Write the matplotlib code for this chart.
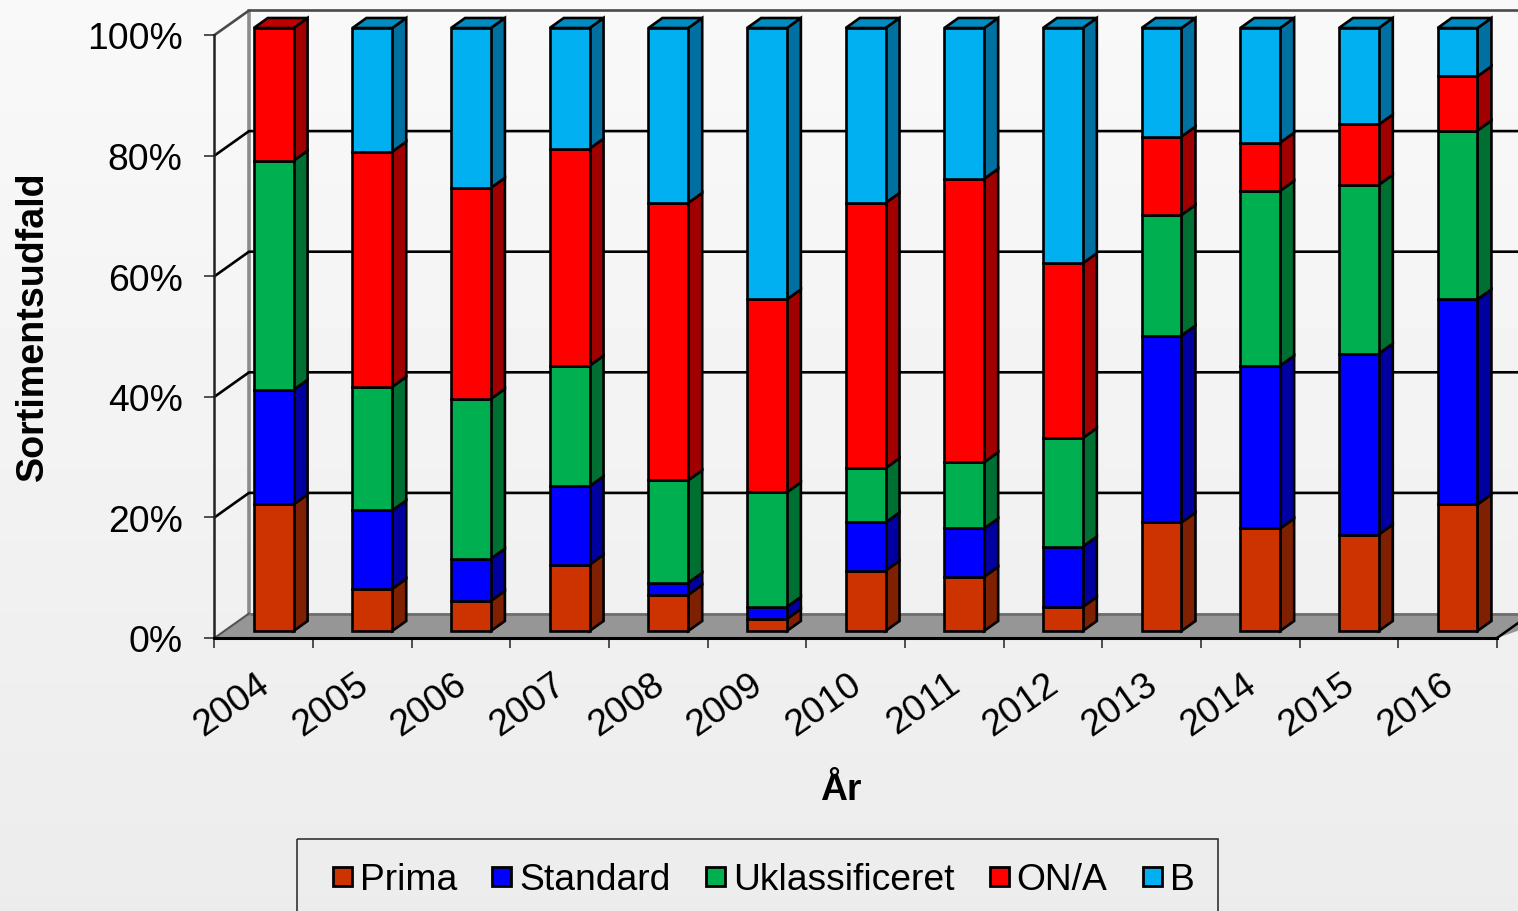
#!/usr/bin/env python3
import numpy as np
import matplotlib
matplotlib.use("Agg")
import matplotlib.pyplot as plt
from matplotlib.patches import Rectangle

plt.rcParams['font.family'] = ['Liberation Sans', 'DejaVu Sans']

years = [2004, 2005, 2006, 2007, 2008, 2009, 2010, 2011, 2012, 2013, 2014, 2015, 2016]
series_names = ['Prima', 'Standard', 'Uklassificeret', 'ON/A', 'B']
prima = [21, 7, 5, 11, 6, 2, 10, 9, 4, 18, 17, 16, 21]
standard = [19, 13, 7, 13, 2, 2, 8, 8, 10, 31, 27, 30, 34]
uklassificeret = [38, 20.5, 26.5, 20, 17, 19, 9, 11, 18, 20, 29, 28, 28]
on_a = [22, 39, 35, 36, 46, 32, 44, 47, 29, 13, 8, 10, 9]
b = [0, 20.5, 26.5, 20, 29, 45, 29, 25, 39, 18, 19, 16, 8]
y_ticks = [0, 20, 40, 60, 80, 100]

front_colors = ['#CC3300', '#0000FF', '#00B050', '#FF0000', '#00B0F0']
side_colors = ['#7F2000', '#0000A0', '#006F32', '#A00000', '#0070A0']
top_colors = ['#A32900', '#0000CC', '#008C40', '#C00000', '#008CC0']

# pixel geometry of the front plane of the chart
W, H = 1518, 912
LEFT, RIGHT, TOP, BOTTOM = 214.5, 1497, 36, 639
px_x = (RIGHT - LEFT) / len(years)
px_y = (BOTTOM - TOP) / 100
bar_dx, bar_dy = 14 / px_x, 10 / px_y
bar_lift = 7 / px_y
wall_dx, wall_dy = 34.5 / px_x, 24.5 / px_y
bar_left, bar_width = 39.3 / px_x, 39.8 / px_x
LW = 1.9

my_dpi = 100
fig = plt.figure(figsize=(W / my_dpi, H / my_dpi), dpi=my_dpi)

# background gradient
bg = fig.add_axes([0, 0, 1, 1], zorder=0)
bg.imshow(np.linspace(0.975, 0.925, 256).reshape(-1, 1), cmap='gray', vmin=0, vmax=1, aspect='auto')
bg.axis('off')

ax = fig.add_axes([LEFT / W, 1 - BOTTOM / H, (RIGHT - LEFT) / W, (BOTTOM - TOP) / H], zorder=1)
ax.patch.set_visible(False)
ax.set_xlim(0, len(years))
ax.set_ylim(0, 100)
x_far = (W + 50 - LEFT) / px_x

# floor
ax.fill([0, wall_dx, x_far, len(years)], [0, wall_dy, wall_dy, 0], color='#969696', lw=0, clip_on=False, zorder=1)
ax.plot([wall_dx, x_far], [wall_dy, wall_dy], color='#6e6e6e', lw=2, clip_on=False, zorder=1.1)
ax.plot([len(years), x_far], [0, (x_far - len(years)) / wall_dx * wall_dy], color='black', lw=1.8, clip_on=False, zorder=1.1)

# back wall + gridlines
ax.plot([wall_dx, wall_dx], [wall_dy, 100 + wall_dy], color='#8c8c8c', lw=2.6, clip_on=False, zorder=1.2)
for t in y_ticks[1:]:
    col = '#4a4a4a' if t == 100 else 'black'
    ax.plot([0, wall_dx, x_far], [t, t + wall_dy, t + wall_dy], color=col, lw=1.9, clip_on=False, zorder=1.3)
ax.plot([0, wall_dx], [0, wall_dy], color='#555555', lw=1.5, clip_on=False, zorder=1.3)

# stacked bars
table = np.array([prima, standard, uklassificeret, on_a, b], dtype=float)
for i in range(len(years)):
    base = bar_lift
    x0 = i + bar_left
    x1 = x0 + bar_width
    last = 0
    for k in range(len(series_names)):
        v = table[k, i]
        if v == 0:
            continue
        ax.fill([x1, x1 + bar_dx, x1 + bar_dx, x1], [base, base + bar_dy, base + v + bar_dy, base + v],
                facecolor=side_colors[k], edgecolor='black', lw=LW, clip_on=False, zorder=2)
        ax.bar(x0, v, bottom=base, width=bar_width, align='edge', color=front_colors[k],
               edgecolor='black', lw=LW, clip_on=False, zorder=3)
        base += v
        last = k
    ax.fill([x0, x0 + bar_dx, x1 + bar_dx, x1], [base, base + bar_dy, base + bar_dy, base],
            facecolor=top_colors[last], edgecolor='black', lw=LW, clip_on=False, zorder=2)

# axes, ticks
for s in ['top', 'right']:
    ax.spines[s].set_visible(False)
ax.spines['left'].set_linewidth(1.8)
ax.spines['left'].set_color('#222222')
ax.spines['bottom'].set_linewidth(2.2)
ax.spines['left'].set_zorder(4)
ax.spines['bottom'].set_zorder(4)
ax.set_yticks(y_ticks)
ax.set_yticklabels([f'{t}%' for t in y_ticks], fontsize=26.8)
ax.tick_params(axis='y', length=7, width=1.2, pad=16, color='#333333')
ax.set_xticks(range(len(years) + 1))
ax.set_xticklabels([])
ax.tick_params(axis='x', which='major', length=7.5, width=1.2, color='#333333')
ax.set_xticks([i + 0.42 for i in range(len(years))], minor=True)
ax.set_xticklabels([str(y) for y in years], minor=True, rotation=35, ha='right',
                   rotation_mode='anchor', fontsize=26.8)
ax.tick_params(axis='x', which='minor', length=0, pad=20)

fig.text(32.5 / W, 1 - 326.5 / H, 'Sortimentsudfald', rotation=90, ha='center', va='center',
         fontsize=27.1, fontweight='bold')
fig.text(841 / W, 1 - 791 / H, 'År', ha='center', va='center', fontsize=26.8, fontweight='bold')

# legend
over = fig.add_axes([0, 0, 1, 1], zorder=2)
over.set_xlim(0, W)
over.set_ylim(H, 0)
over.axis('off')
over.add_patch(Rectangle((297, 840), 921, 90, facecolor='none', edgecolor='#333333', lw=1.2, clip_on=True))
swatch_x = [333, 492, 706, 990, 1143]
text_x = [360, 519, 733, 1016, 1170]
for k, name in enumerate(series_names):
    over.add_patch(Rectangle((swatch_x[k], 868), 19, 19.5, facecolor=front_colors[k], edgecolor='black', lw=2))
    over.text(text_x[k], 877, name, fontsize=26.8, ha='left', va='center_baseline')

fig.savefig('out.png', dpi=my_dpi)
